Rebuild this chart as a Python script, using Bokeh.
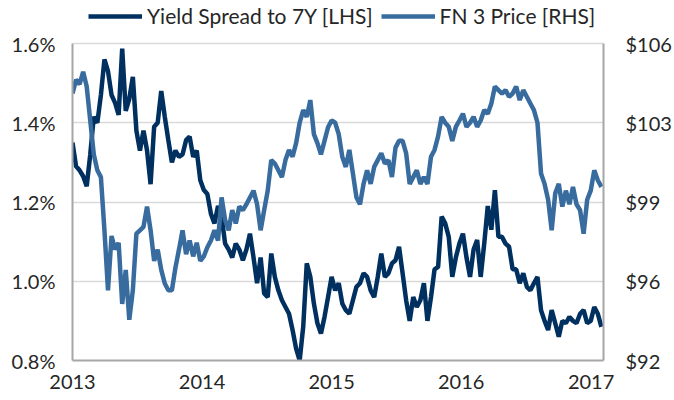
import pandas as pd
from bokeh.plotting import figure
from bokeh.models import Range1d, LinearAxis, FixedTicker, PrintfTickFormatter, Legend, LegendItem
from bokeh.embed import file_html
from bokeh.resources import INLINE

# sampled roughly every 10 days from Jan 2013 to end of Jan 2017
dates = pd.date_range("2013-01-01", periods=150, freq="10D")

spread = [
    1.35, 1.29, 1.28, 1.265, 1.24, 1.32, 1.415, 1.40, 1.47, 1.56,
    1.53, 1.47, 1.45, 1.42, 1.587, 1.43, 1.46, 1.516, 1.38, 1.33,
    1.38, 1.33, 1.245, 1.39, 1.40, 1.48, 1.415, 1.356, 1.30, 1.33,
    1.314, 1.32, 1.356, 1.365, 1.314, 1.33, 1.255, 1.23, 1.22, 1.17,
    1.146, 1.19, 1.163, 1.095, 1.08, 1.06, 1.095, 1.08, 1.053, 1.08,
    1.12, 1.06, 0.995, 1.06, 0.969, 0.96, 1.07, 1.011, 0.977, 0.952,
    0.935, 0.918, 0.877, 0.83, 0.80, 0.885, 1.045, 1.011, 0.944, 0.894,
    0.868, 0.91, 0.96, 1.011, 0.977, 0.995, 0.944, 0.927, 0.918, 0.952,
    0.986, 0.995, 1.02, 1.011, 0.977, 0.96, 1.011, 1.07, 1.011, 1.02,
    1.045, 1.053, 1.087, 1.02, 0.952, 0.90, 0.96, 0.935, 0.952, 0.995,
    0.90, 0.96, 1.03, 1.036, 1.163, 1.146, 1.112, 1.011, 1.06, 1.095,
    1.12, 1.06, 1.011, 1.08, 1.104, 1.011, 1.095, 1.19, 1.13, 1.23,
    1.112, 1.112, 1.095, 1.087, 1.03, 1.03, 0.995, 1.02, 0.986, 0.977,
    0.995, 1.011, 0.927, 0.90, 0.877, 0.927, 0.894, 0.86, 0.90, 0.894,
    0.91, 0.90, 0.894, 0.918, 0.927, 0.894, 0.90, 0.935, 0.918, 0.885,
]

price = [
    103.8, 104.4, 104.2, 104.75, 104.1, 102.6, 101.1, 100.4, 100.1, 97.75,
    95.1, 97.5, 96.9, 97.2, 94.5, 96.0, 93.8, 95.1, 97.6, 97.75,
    97.9, 98.8, 97.75, 96.4, 96.9, 96.0, 95.4, 95.1, 95.1, 96.1,
    96.9, 97.75, 96.7, 97.3, 96.6, 97.2, 96.4, 96.6, 97.0, 97.3,
    97.75, 97.3, 99.2, 98.2, 97.75, 98.64, 98.05, 98.8, 98.64, 98.9,
    99.2, 99.5, 98.9, 97.75, 98.64, 99.5, 100.85, 100.7, 100.4, 100.1,
    100.85, 101.3, 101.0, 101.6, 102.5, 103.06, 102.76, 103.5, 102.0, 101.6,
    101.1, 101.7, 102.3, 102.6, 102.5, 102.0, 101.0, 100.55, 101.3, 100.26,
    99.2, 98.9, 99.8, 100.4, 99.8, 100.55, 100.85, 101.15, 100.7, 100.85,
    100.1, 101.4, 101.7, 101.7, 101.15, 99.8, 100.1, 100.4, 99.8, 100.1,
    99.8, 101.0, 101.3, 101.9, 102.76, 102.5, 102.32, 101.7, 102.32, 102.6,
    102.9, 102.32, 102.5, 102.76, 102.32, 102.6, 103.06, 102.9, 103.35, 104.1,
    103.94, 103.79, 103.94, 103.65, 103.79, 104.1, 103.5, 103.94, 103.65, 103.35,
    103.06, 102.5, 100.26, 99.8, 99.1, 97.75, 99.38, 99.8, 98.8, 99.5,
    98.9, 99.67, 98.9, 98.64, 97.6, 99.1, 99.5, 100.4, 99.96, 99.67,
]

left_ticks = [0.8, 1.0, 1.2, 1.4, 1.6]
right_ticks = [92, 95.5, 99, 102.5, 106]
right_labels = ["$92", "$96", "$99", "$103", "$106"]
year_dates = ["2013-01-01", "2014-01-01", "2015-01-01", "2016-01-01", "2017-01-01"]
year_labels = ["2013", "2014", "2015", "2016", "2017"]
series_names = ["Yield Spread to 7Y [LHS]", "FN 3 Price [RHS]"]

FONT = "Lato"
DARK = "#00305F"
LIGHT = "#386B9E"
TEXT = "#262626"
AXIS = "#A6A6A6"

# layout geometry (pixels): headroom above the 1.6% / $106 gridline holds the legend
W, H = 674, 400
TOP_PAD, BOTTOM = 43, 40
plot_h = H - TOP_PAD - BOTTOM
lo_l, hi_l = left_ticks[0], left_ticks[-1]
lo_r, hi_r = right_ticks[0], right_ticks[-1]
ext_l = hi_l + (hi_l - lo_l) * TOP_PAD / plot_h
ext_r = hi_r + (hi_r - lo_r) * TOP_PAD / plot_h

p = figure(
    width=W, height=H,
    x_axis_type="datetime",
    x_range=Range1d(pd.Timestamp("2013-01-01"), pd.Timestamp("2017-02-05")),
    y_range=Range1d(lo_l, ext_l),
    output_backend="svg", toolbar_location=None,
    min_border_left=72, min_border_right=71, min_border_top=0, min_border_bottom=BOTTOM,
)
p.extra_y_ranges = {"price": Range1d(lo_r, ext_r)}
p.outline_line_color = None
p.background_fill_color = "white"
p.border_fill_color = "white"

r1 = p.line(dates, spread, line_color=DARK, line_width=4.5)
r2 = p.line(dates, price, y_range_name="price", line_color=LIGHT, line_width=4.5)

year_ms = [pd.Timestamp(d).value / 1e6 for d in year_dates]
p.xaxis.ticker = FixedTicker(ticks=year_ms)
p.xaxis.major_label_overrides = dict(zip(year_ms, year_labels))

p.yaxis.ticker = FixedTicker(ticks=left_ticks)
p.yaxis.formatter = PrintfTickFormatter(format="%.1f%%")
p.yaxis.bounds = (lo_l, hi_l)

right = LinearAxis(y_range_name="price", ticker=FixedTicker(ticks=right_ticks), bounds=(lo_r, hi_r))
right.major_label_overrides = dict(zip([float(t) for t in right_ticks], right_labels))
p.add_layout(right, "right")

for ax, standoff in [(p.xaxis[0], 14), (p.yaxis[0], 17), (right, 22)]:
    ax.major_tick_line_color = None
    ax.minor_tick_line_color = None
    ax.major_tick_out = 0
    ax.major_tick_in = 0
    ax.minor_tick_out = 0
    ax.minor_tick_in = 0
    ax.axis_line_color = AXIS
    ax.axis_line_width = 2
    ax.major_label_text_font = FONT
    ax.major_label_text_font_size = "20px"
    ax.major_label_text_color = TEXT
    ax.major_label_standoff = standoff

p.xgrid.grid_line_color = None
p.ygrid.grid_line_color = "#D9D9D9"
p.ygrid.grid_line_width = 1.5

legend = Legend(
    items=[LegendItem(label=series_names[0], renderers=[r1]),
           LegendItem(label=series_names[1], renderers=[r2])],
    orientation="horizontal", location=(16, 332),
    border_line_color=None, background_fill_alpha=0,
    padding=0, margin=0, spacing=8,
    glyph_width=54, glyph_height=20, label_height=20, label_standoff=5,
    label_text_font=FONT, label_text_font_size="21px", label_text_color=TEXT,
)
p.add_layout(legend)

open("out.html", "w").write(file_html(p, INLINE))
